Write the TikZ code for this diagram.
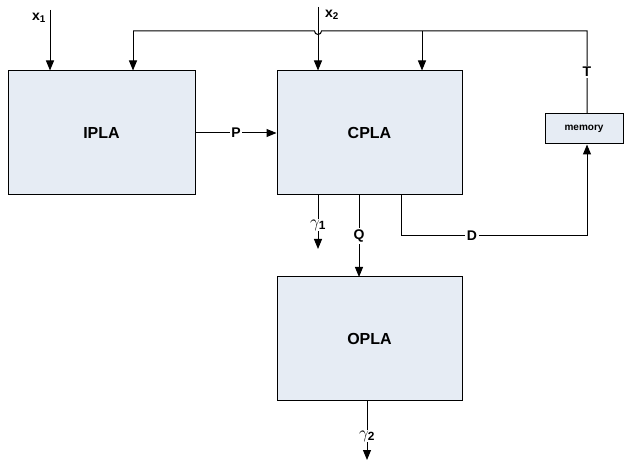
\documentclass[tikz,border=0pt]{standalone}
\usepackage{fontspec}
\setmainfont{Liberation Sans}
\usetikzlibrary{arrows.meta}
\definecolor{boxfill}{HTML}{E6ECF4}
\tikzset{
  blk/.style={draw=black, fill=boxfill, line width=1pt, inner sep=0pt, font=\bfseries\fontsize{16}{18}\selectfont},
  wire/.style={line width=1pt},
  arr/.style={wire, -{Triangle[length=10pt,width=8pt]}},
  lbl/.style={font=\bfseries\fontsize{14}{16}\selectfont, fill=white, inner sep=1.5pt},
  sub/.style={font=\bfseries\fontsize{14}{16}\selectfont, inner sep=0pt},
  glbl/.style={font=\fontsize{17}{19}\selectfont, fill=white, inner sep=1pt}
}
\begin{document}
\begin{tikzpicture}[x=1pt,y=-1pt]
\useasboundingbox (0,0) rectangle (624,462);
% blocks
\node[blk, minimum width=187pt, minimum height=124pt] (ipla) at (101.5,133) {IPLA};
\node[blk, minimum width=185pt, minimum height=124pt] (cpla) at (369.5,133) {CPLA};
\node[blk, minimum width=185pt, minimum height=123pt] (opla) at (369.5,338.5) {OPLA};
\node[blk, minimum width=78pt, minimum height=30pt, font=\bfseries\fontsize{10}{12}\selectfont] (mem) at (584,129) {memory};
% coordinates
\coordinate (x1top) at (50,10);
\coordinate (x2top) at (318,7);
\coordinate (fbL) at (133,31);
\coordinate (fbR) at (587,31);
\coordinate (fbM) at (422,31);
\coordinate (dcorner) at (401,236);
\coordinate (dright) at (587,236);
\coordinate (g1end) at (318,249);
\coordinate (g2end) at (367,460);
% inputs
\draw[arr] (x1top) -- (x1top |- ipla.north);
\node[sub, anchor=east] (x1lbl) at (46,18) {x$_{\mathbf 1}$};
\draw[arr] (x2top) -- (x2top |- cpla.north);
\node[sub, anchor=west] (x2lbl) at (325,15) {x$_{\mathbf 2}$};
% feedback line with hop over x2
\draw[wire] (fbR |- mem.north) -- (fbR) -- (321.5,31) arc[start angle=0, end angle=180, radius=3.5] -- (fbL);
\draw[arr] (fbL) -- (fbL |- ipla.north);
\draw[arr] (fbM) -- (fbM |- cpla.north);
\node[lbl] (tlbl) at (587,72) {T};
% P
\draw[arr] (ipla.east |- 0,133) -- node[lbl] (plbl) {P} (cpla.west |- 0,133);
% D
\draw[wire] (dcorner |- cpla.south) -- (dcorner) -- (dright);
\draw[arr] (dright) -- (dright |- mem.south);
\node[lbl] (dlbl) at (472,236) {D};
% gamma1
\draw[arr] (g1end |- cpla.south) -- (g1end);
\node[glbl] (g1lbl) at (318,225) {$\gamma_{\mathbf 1}$};
% Q
\draw[arr] (359,195) -- (359,277);
\node[lbl] (qlbl) at (359,236) {Q};
% gamma2
\draw[arr] (g2end |- opla.south) -- (g2end);
\node[glbl] (g2lbl) at (367,436) {$\gamma_{\mathbf 2}$};
\end{tikzpicture}
\end{document}
